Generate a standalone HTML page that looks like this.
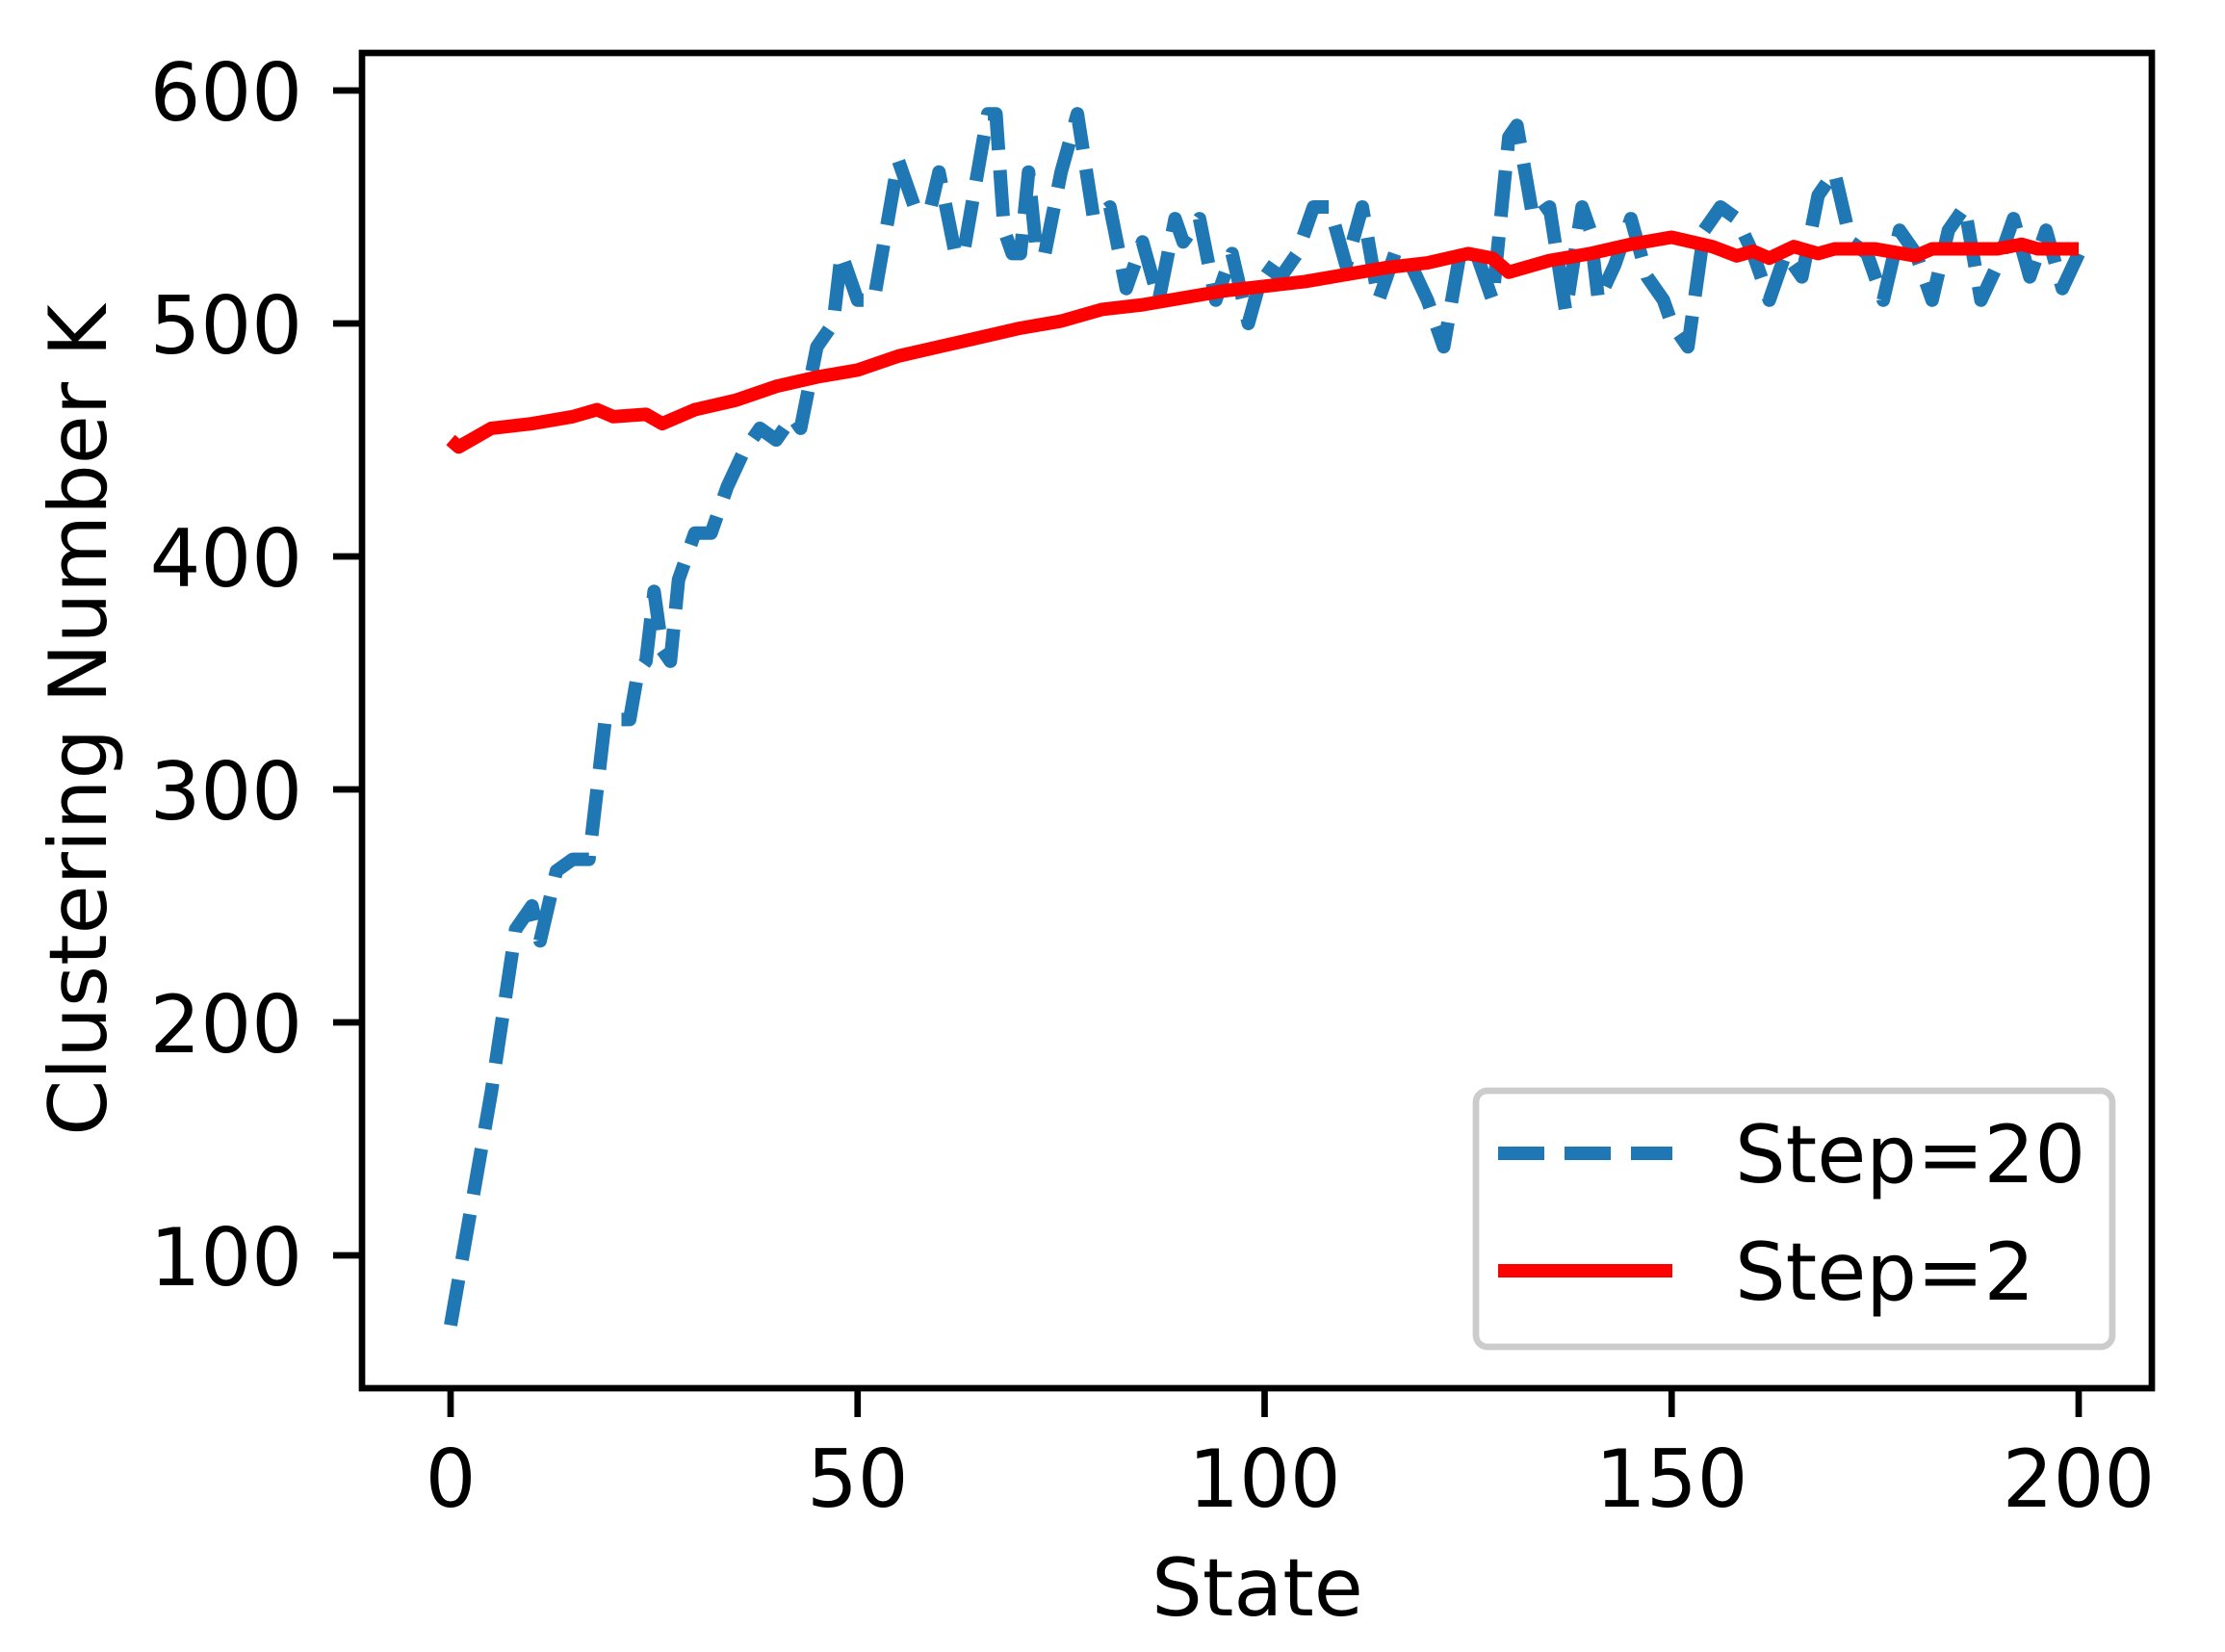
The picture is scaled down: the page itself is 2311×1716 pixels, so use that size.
<!DOCTYPE html>
<html><head><meta charset="utf-8"><style>html,body{margin:0;padding:0;background:#fff}svg{display:block}</style></head>
<body>
<svg width="2311" height="1716" viewBox="0 0 2311 1716" xmlns="http://www.w3.org/2000/svg" font-family="DejaVu Sans, Liberation Sans, sans-serif">
<rect width="2311" height="1716" fill="#fff"/>
<g transform="translate(468,94) scale(8.455,-2.42) translate(0,-600)">
<polyline fill="none" stroke="#1f77b4" stroke-width="14" vector-effect="non-scaling-stroke" stroke-dasharray="48 21" stroke-linejoin="round" points="
0,70 5,170 8,240 10,250 11,235 13,265 15,270 17,270 19,330 21,330 22,330 23,350 24,355 25,385 26,360 27,355 28,390 30,410 32,410 34,430 36,445 38,455 40,450 42,460 43,455 45,490 47,500 48,530 50,510 52,510 53,530 55,570 57,550 59,550 60,565 62,530 63,530 65,570 66,590 67,590 68,540 69,530 70,530 71,565 72,530 73,530 75,565 77,590 79,545 81,550 83,515 85,535 87,510 89,545 90,535 92,545 94,510 96,530 98,500 100,525 102,520 104,530 106,550 108,550 110,525 112,550 114,510 116,530 118,525 120,510 122,490 124,530 126,530 128,510 130,580 131,585 133,545 135,550 137,505 139,550 140,540 141,510 143,525 145,545 147,520 149,510 150,500 152,490 154,540 156,550 158,545 160,530 162,510 164,530 166,520 168,555 170,565 172,535 174,530 176,510 178,540 180,530 182,510 184,540 186,550 188,510 190,525 192,545 194,520 196,540 198,515 200,530"/>
<polyline fill="none" stroke="#ff0000" stroke-width="14" vector-effect="non-scaling-stroke" stroke-linejoin="round" points="
0,450 1,447 5,455 10,457 15,460 18,463 20,460 24,461 26,457 30,463 35,467 40,473 45,477 50,480 55,486 60,490 65,494 70,498 75,501 80,506 85,508 90,511 95,514 100,516 105,518 110,521 115,524 120,526 125,530 128,528 130,522 135,527 140,530 145,534 150,537 155,533 158,529 160,531 162,528 165,533 168,530 170,532 175,532 180,529 182,532 190,532 193,534 195,532 200,532"/>
</g>
<rect x="376" y="55" width="1859" height="1387" fill="none" stroke="#000" stroke-width="6.7"/>
<g stroke="#000" stroke-width="6.7">
<line x1="468" y1="1442" x2="468" y2="1472"/><line x1="890.75" y1="1442" x2="890.75" y2="1472"/><line x1="1313.5" y1="1442" x2="1313.5" y2="1472"/><line x1="1736.25" y1="1442" x2="1736.25" y2="1472"/><line x1="2159" y1="1442" x2="2159" y2="1472"/>
<line x1="346" y1="94" x2="376" y2="94"/><line x1="346" y1="336" x2="376" y2="336"/><line x1="346" y1="578" x2="376" y2="578"/><line x1="346" y1="820" x2="376" y2="820"/><line x1="346" y1="1062" x2="376" y2="1062"/><line x1="346" y1="1304" x2="376" y2="1304"/>
</g>
<g font-size="83" fill="#000" text-anchor="middle">
<text x="468" y="1565">0</text><text x="890.75" y="1565">50</text><text x="1313.5" y="1565">100</text><text x="1736.25" y="1565">150</text><text x="2159" y="1565">200</text>
<text x="1306" y="1678">State</text>
</g>
<g font-size="83" fill="#000" text-anchor="end">
<text x="314" y="125">600</text><text x="314" y="367">500</text><text x="314" y="609">400</text><text x="314" y="851">300</text><text x="314" y="1093">200</text><text x="314" y="1335">100</text>
</g>
<text transform="translate(110,748) rotate(-90)" font-size="83" text-anchor="middle" fill="#000">Clustering Number K</text>
<rect x="1533" y="1133" width="661" height="266" rx="12" fill="#fff" fill-opacity="0.8" stroke="#cccccc" stroke-width="6.7"/>
<line x1="1556" y1="1198" x2="1737" y2="1198" stroke="#1f77b4" stroke-width="14" stroke-dasharray="48 21"/>
<line x1="1556" y1="1320" x2="1737" y2="1320" stroke="#ff0000" stroke-width="14"/>
<text x="1802" y="1228" font-size="83" fill="#000">Step=20</text>
<text x="1802" y="1350" font-size="83" fill="#000">Step=2</text>
</svg>
</body></html>
